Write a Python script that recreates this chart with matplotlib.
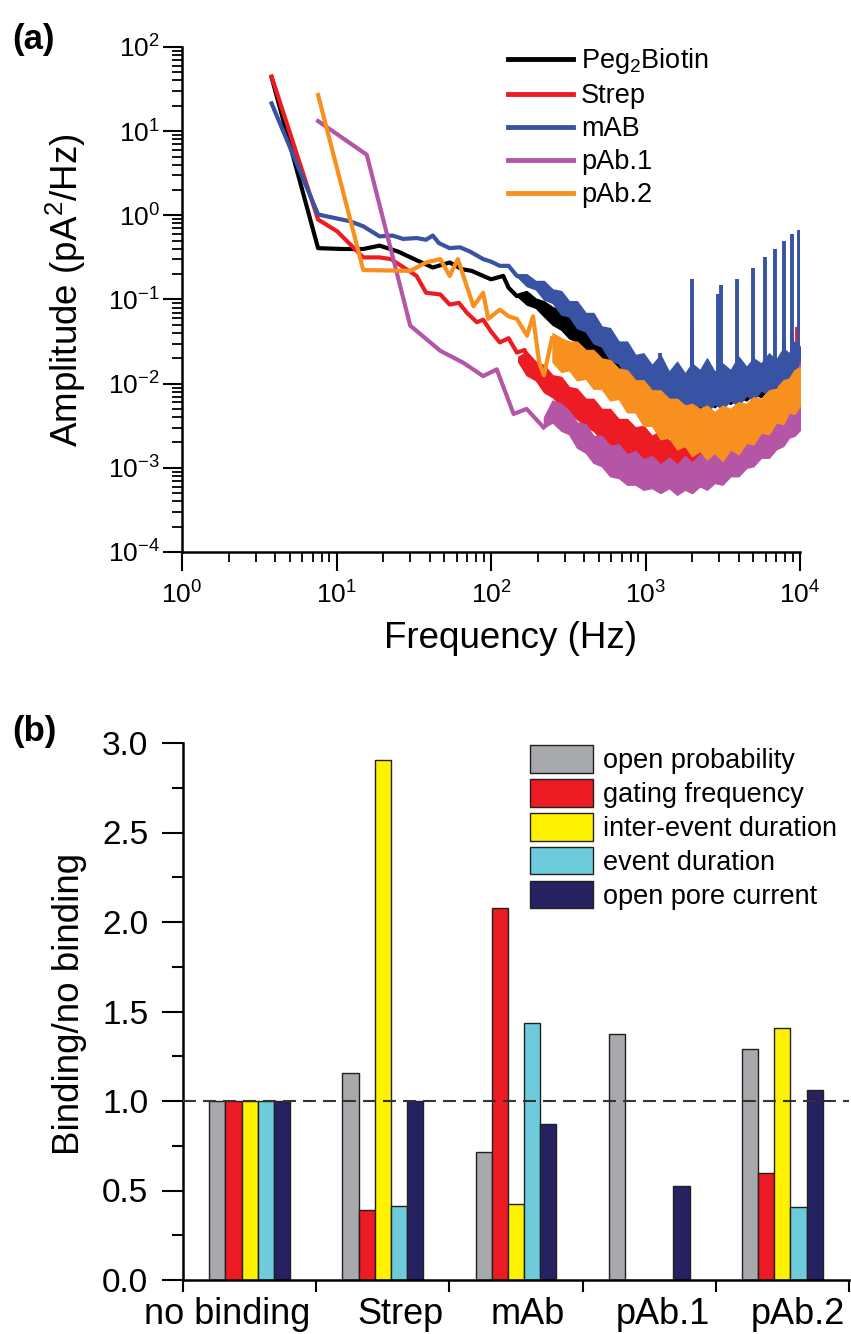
import numpy as np
import matplotlib
matplotlib.use("Agg")
import matplotlib.pyplot as plt
from matplotlib.ticker import LogLocator, NullFormatter, MultipleLocator, FixedLocator, FormatStrFormatter

plt.rcParams["font.family"] = ["Liberation Sans", "DejaVu Sans"]
plt.rcParams["axes.unicode_minus"] = False
plt.rcParams["mathtext.fontset"] = "custom"
plt.rcParams["mathtext.rm"] = "Liberation Sans"
plt.rcParams["mathtext.it"] = "Liberation Sans:italic"

# ── panel (a): power spectra, values as log10(amplitude) ─────────────────────
peg_f = [3.8, 7.6, 11, 14.9, 19, 25, 33.6, 42, 54, 65, 75, 89, 100, 120, 130, 147, 166, 185, 203, 230]
peg_a = [1.64, -0.39, -0.40, -0.40, -0.36, -0.43, -0.54, -0.62, -0.56, -0.64, -0.66, -0.72, -0.76,
         -0.72, -0.86, -0.96, -0.93, -1.0, -1.09, -1.12]

strep_f = [3.8, 7.6, 10.1, 14.9, 19, 22.5, 33, 38, 47, 54, 62, 70, 81, 89, 100, 114, 130, 147, 165, 187]
strep_a = [1.65, -0.05, -0.19, -0.50, -0.50, -0.52, -0.72, -0.92, -0.94, -1.06, -1.04, -1.16, -1.27,
           -1.24, -1.38, -1.51, -1.46, -1.63, -1.60, -1.87]

mab_f = [3.8, 7.6, 12.2, 14.9, 19, 23, 27, 33, 38, 42, 46, 54, 63, 73, 89, 100, 114, 130, 147, 165, 187]
mab_a = [1.33, 0.01, -0.07, -0.13, -0.25, -0.24, -0.28, -0.27, -0.29, -0.24, -0.33, -0.39, -0.38,
         -0.43, -0.52, -0.55, -0.60, -0.60, -0.72, -0.75, -0.84]

pab1_f = [7.6, 15.7, 30, 47, 66, 89, 109, 140, 170, 219]
pab1_a = [1.12, 0.72, -1.31, -1.61, -1.75, -1.91, -1.83, -2.36, -2.30, -2.52]

pab2_f = [7.6, 14.9, 30, 38, 47, 54, 61, 77, 89, 96, 114, 130, 147, 171, 187, 205, 220, 248]
pab2_a = [1.43, -0.65, -0.66, -0.56, -0.52, -0.72, -0.52, -1.08, -0.92, -1.23, -1.12, -1.20, -1.23,
          -1.43, -1.20, -1.75, -1.90, -1.46]

# noisy high-frequency part: upper / lower envelope (log10)
band_f = [150, 170, 195, 220, 250, 285, 320, 360, 410, 460, 520, 590, 670, 760, 860, 970, 1100,
          1250, 1420, 1600, 1800, 2000, 2250, 2500, 2800, 3150, 3550, 4000, 4500, 5000, 5600,
          6300, 7000, 7800, 8500, 9200, 10000]

peg_hi = [-0.93, -0.90, -0.99, -1.02, -1.09, -1.13, -1.22, -1.26, -1.36, -1.40, -1.52, -1.56, -1.70,
          -1.74, -1.86, -1.84, -1.96, -1.88, -1.98, -1.92, -2.00, -1.90, -1.97, -1.90, -1.98, -1.90,
          -1.95, -1.86, -1.90, -1.82, -1.86, -1.76, -1.80, -1.70, -1.74, -1.62, -1.66]
peg_lo = [-0.97, -1.06, -1.10, -1.20, -1.30, -1.36, -1.46, -1.50, -1.62, -1.66, -1.80, -1.84, -1.98,
          -2.04, -2.16, -2.18, -2.28, -2.22, -2.30, -2.24, -2.32, -2.26, -2.30, -2.22, -2.28, -2.20,
          -2.24, -2.16, -2.20, -2.12, -2.16, -2.06, -2.10, -2.00, -2.04, -1.94, -1.92]

strep_hi = [-1.68, -1.62, -1.74, -1.78, -1.90, -1.92, -2.04, -2.06, -2.18, -2.18, -2.30, -2.30, -2.42,
            -2.42, -2.52, -2.50, -2.62, -2.56, -2.68, -2.60, -2.70, -2.62, -2.68, -2.60, -2.64, -2.56,
            -2.56, -2.46, -2.46, -2.34, -2.34, -2.22, -2.20, -2.06, -2.04, -1.88, -1.80]
strep_lo = [-1.74, -1.90, -1.96, -2.10, -2.16, -2.26, -2.34, -2.42, -2.50, -2.56, -2.66, -2.72, -2.82,
            -2.88, -2.98, -3.02, -3.14, -3.16, -3.24, -3.18, -3.22, -3.14, -3.18, -3.08, -3.12, -3.02,
            -3.04, -2.92, -2.90, -2.80, -2.78, -2.66, -2.64, -2.50, -2.48, -2.34, -2.30]

mab_hi = [-0.70, -0.70, -0.78, -0.78, -0.88, -0.90, -1.02, -1.02, -1.16, -1.16, -1.32, -1.34, -1.50,
          -1.50, -1.66, -1.64, -1.78, -1.66, -1.86, -1.74, -1.88, -1.76, -1.84, -1.70, -1.86, -1.76,
          -1.84, -1.68, -1.80, -1.70, -1.76, -1.64, -1.72, -1.58, -1.64, -1.50, -1.56]
mab_lo = [-0.74, -0.84, -0.88, -1.00, -1.04, -1.18, -1.20, -1.34, -1.38, -1.52, -1.56, -1.72, -1.76,
          -1.92, -1.96, -2.10, -2.12, -2.24, -2.20, -2.32, -2.26, -2.34, -2.26, -2.34, -2.24, -2.30,
          -2.20, -2.26, -2.14, -2.20, -2.08, -2.14, -2.02, -2.08, -1.96, -2.02, -1.95]

pab1_hi = [-2.33, -2.28, -2.34, -2.40, -2.20, -2.24, -2.32, -2.46, -2.48, -2.62, -2.62, -2.74, -2.72,
           -2.84, -2.80, -2.90, -2.86, -2.96, -2.88, -2.96, -2.86, -2.94, -2.84, -2.90, -2.80, -2.84,
           -2.72, -2.74, -2.62, -2.62, -2.50, -2.48, -2.32, -2.28, -2.08, -2.02, -1.75]
pab1_lo = [-2.35, -2.34, -2.40, -2.52, -2.46, -2.56, -2.60, -2.76, -2.82, -2.94, -2.98, -3.10, -3.12,
           -3.20, -3.20, -3.26, -3.24, -3.30, -3.24, -3.32, -3.26, -3.30, -3.22, -3.26, -3.18, -3.20,
           -3.10, -3.10, -3.00, -2.98, -2.88, -2.88, -2.78, -2.74, -2.64, -2.62, -2.55]

pab2_hi = [-1.22, -1.40, -1.22, -1.70, -1.40, -1.46, -1.50, -1.50, -1.60, -1.60, -1.70, -1.72, -1.82,
           -1.84, -1.96, -1.96, -2.08, -2.08, -2.18, -2.18, -2.26, -2.24, -2.30, -2.26, -2.34, -2.26,
           -2.30, -2.22, -2.24, -2.16, -2.18, -2.08, -2.06, -1.96, -1.94, -1.84, -1.80]
pab2_lo = [-1.26, -1.46, -1.50, -1.92, -1.74, -1.86, -1.84, -1.96, -1.94, -2.06, -2.06, -2.20, -2.18,
           -2.34, -2.34, -2.50, -2.50, -2.66, -2.64, -2.78, -2.74, -2.86, -2.80, -2.90, -2.82, -2.92,
           -2.78, -2.84, -2.70, -2.72, -2.58, -2.60, -2.46, -2.48, -2.34, -2.36, -2.26]

# frequency where the noisy band takes over from the clean line
peg_band_start, strep_band_start, mab_band_start = 150, 150, 150
pab1_band_start, pab2_band_start = 200, 240

# line-frequency harmonics (spikes)
mab_spike_f   = [1240, 2000, 2960, 3080, 3930, 4940, 5930, 6890, 7880, 8910, 9900]
mab_spike_top = [-1.63, -0.76, -0.94, -0.83, -0.76, -0.62, -0.49, -0.40, -0.31, -0.22, -0.18]
mab_spike_bot = [-2.10, -2.10, -2.10, -2.10, -2.05, -2.00, -1.98, -1.95, -1.90, -1.85, -1.80]
peg_spike_f   = [1990, 4900, 7850, 8900]
peg_spike_top = [-1.25, -1.82, -1.49, -1.39]
peg_spike_bot = [-2.10, -2.00, -1.90, -1.85]
strep_spike_f   = [9530]
strep_spike_top = [-1.33]
strep_spike_bot = [-2.20]

SERIES = [
    # label, colour, line f, line a, band hi, band lo, band start, spikes
    ("Peg$_2$Biotin", "#000000", peg_f, peg_a, peg_hi, peg_lo, peg_band_start,
     (peg_spike_f, peg_spike_bot, peg_spike_top)),
    ("Strep", "#ed1c24", strep_f, strep_a, strep_hi, strep_lo, strep_band_start,
     (strep_spike_f, strep_spike_bot, strep_spike_top)),
    ("mAB", "#3953a4", mab_f, mab_a, mab_hi, mab_lo, mab_band_start,
     (mab_spike_f, mab_spike_bot, mab_spike_top)),
    ("pAb.1", "#b455a6", pab1_f, pab1_a, pab1_hi, pab1_lo, pab1_band_start, None),
    ("pAb.2", "#f7901e", pab2_f, pab2_a, pab2_hi, pab2_lo, pab2_band_start, None),
]

# ── panel (b): binding / no binding ratios ───────────────────────────────────
groups = ["no binding", "Strep", "mAb", "pAb.1", "pAb.2"]
metrics = ["open probability", "gating frequency", "inter-event duration",
           "event duration", "open pore current"]
open_prob   = [1.0, 1.155, 0.717, 1.373, 1.293]
gating_freq = [1.0, 0.392, 2.078, 0.0, 0.595]
inter_event = [1.0, 2.907, 0.425, 0.0, 1.406]
event_dur   = [1.0, 0.413, 1.434, 0.0, 0.409]
open_pore   = [1.0, 1.0, 0.869, 0.525, 1.062]
bar_colors = ["#a7a9ac", "#ed1c24", "#fff200", "#6dcbdb", "#262262"]
# category labels are nudged in the original figure
label_pos = [-0.17, 1.13, 2.09, 3.10, 4.12]


def lg(v):
    return np.power(10.0, np.asarray(v, dtype=float))


fig = plt.figure(figsize=(8.51, 13.34), dpi=100)
W, H = 851.0, 1334.0

# ── (a) ──────────────────────────────────────────────────────────────────────
ax = fig.add_axes([182 / W, 1 - 552 / H, 618 / W, 505 / H])
bf = np.asarray(band_f, dtype=float)
for z, (label, col, lf, la, hi, lo, start, spikes) in enumerate(SERIES):
    zz = 2 + z
    ax.fill_between(bf, lg(lo), lg(hi), where=bf >= start,
                    color=col, lw=1.0, edgecolor=col, zorder=zz)
    ax.plot(lf, lg(la), color=col, lw=3.0, label=label, zorder=zz)
    if spikes is not None:
        sf, sb, st = spikes
        ax.vlines(sf, lg(sb), lg(st), color=col, lw=2.8, zorder=zz)

ax.set_xscale("log")
ax.set_yscale("log")
ax.set_xlim(1, 1e4)
ax.set_ylim(1e-4, 1e2)
for a in (ax.xaxis, ax.yaxis):
    a.set_major_locator(LogLocator(base=10, numticks=10))
    a.set_minor_locator(LogLocator(base=10, subs=np.arange(2, 10), numticks=20))
    a.set_minor_formatter(NullFormatter())
for s in ("top", "right"):
    ax.spines[s].set_visible(False)
for s in ("left", "bottom"):
    ax.spines[s].set_linewidth(1.8)
ax.tick_params(which="major", direction="out", length=14, width=1.5, labelsize=19)
ax.tick_params(which="minor", direction="out", length=7, width=1.3)
ax.tick_params(axis="x", which="major", pad=7)
ax.tick_params(axis="y", which="major", pad=2)
ax.set_xlabel("Frequency (Hz)", fontsize=26.5)
ax.xaxis.set_label_coords(0.532, -0.137)
ax.set_ylabel("Amplitude (pA$^2$/Hz)", fontsize=26.5)
ax.yaxis.set_label_coords(-0.152, 0.519)

leg = ax.legend(loc="upper left", bbox_to_anchor=(508 / W, 1 - 46 / H),
                bbox_transform=fig.transFigure, frameon=False, fontsize=19.5,
                handlelength=2.4, handletextpad=0.3, labelspacing=0.26,
                borderpad=0, borderaxespad=0)
for ln in leg.get_lines():
    ln.set_linewidth(3.5)

fig.text(12 / W, 1 - 39 / H, "(a)", fontsize=25, fontweight="bold", va="center", ha="left")

# ── (b) ──────────────────────────────────────────────────────────────────────
bx = fig.add_axes([183 / W, 1 - 1280 / H, 666 / W, 537 / H])
x = np.arange(len(groups))
w = 0.1216
series_b = [open_prob, gating_freq, inter_event, event_dur, open_pore]
for i, (name, vals, c) in enumerate(zip(metrics, series_b, bar_colors)):
    bx.bar(x + (i - 2) * w, vals, width=w, color=c, edgecolor="#231f20", linewidth=1.0,
           label=name, zorder=2)
bx.axhline(1.0, color="#333333", lw=1.5, dashes=(6.2, 3.4), zorder=5)

bx.set_xlim(-0.5, len(groups) - 0.5)
bx.set_ylim(0, 3.0)
bx.yaxis.set_major_locator(MultipleLocator(0.5))
bx.yaxis.set_minor_locator(MultipleLocator(0.25))
bx.yaxis.set_major_formatter(FormatStrFormatter("%.1f"))
bx.xaxis.set_major_locator(FixedLocator(np.arange(len(groups) + 1) - 0.5))
bx.xaxis.set_major_formatter(NullFormatter())
bx.xaxis.set_minor_locator(FixedLocator(label_pos))
bx.set_xticklabels(groups, minor=True)
for s in ("top", "right"):
    bx.spines[s].set_visible(False)
for s in ("left", "bottom"):
    bx.spines[s].set_linewidth(1.8)
bx.tick_params(axis="y", which="major", direction="out", length=15, width=1.5, labelsize=24, pad=10)
bx.tick_params(axis="y", which="minor", direction="out", length=8, width=1.5)
bx.tick_params(axis="x", which="major", direction="out", length=8.5, width=1.5)
bx.tick_params(axis="x", which="minor", length=0, labelsize=26, pad=12)
bx.set_ylabel("Binding/no binding", fontsize=26.5)
bx.yaxis.set_label_coords(-0.144, 0.514)

bx.legend(loc="upper left", bbox_to_anchor=(530 / W, 1 - 745 / H),
          bbox_transform=fig.transFigure, frameon=False, fontsize=19.5,
          handlelength=2.33, handleheight=1.2, handletextpad=0.37, labelspacing=0.18,
          borderpad=0, borderaxespad=0)

fig.text(12 / W, 1 - 731 / H, "(b)", fontsize=25, fontweight="bold", va="center", ha="left")

fig.savefig("out.png", dpi=100)
